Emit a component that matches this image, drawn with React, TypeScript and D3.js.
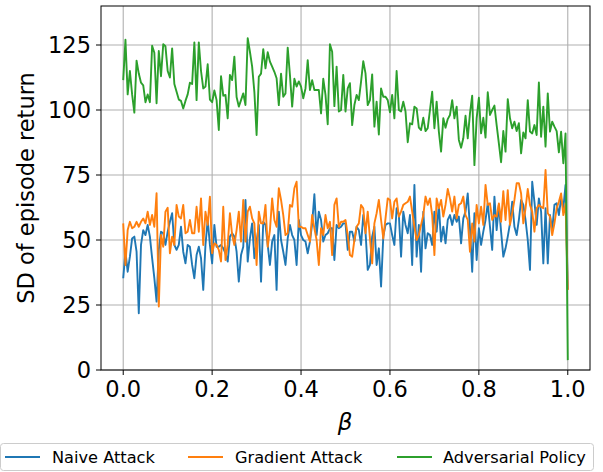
import React from "react";
import * as d3 from "d3";

const naiveAttack: number[] = [
  35.3, 45.5, 37.8, 43.6, 50.6, 51.3, 45.5, 21.8, 48.1, 53.8,
  51.9, 55.8, 51.3, 43, 35.3, 26.3, 46.2, 53.2, 52.6, 48.1,
  53.2, 57, 60.3, 48.1, 46.2, 48.1, 55.1, 45.5, 41, 48.1,
  47.4, 40.4, 35.3, 44.2, 47.4, 43, 30.8, 48.1, 57.7, 48.1,
  41, 55.8, 47.4, 47.4, 48.1, 46.8, 44.9, 41.7, 51.3, 52.6,
  51.3, 45.5, 34, 44.2, 47.4, 65.4, 41.7, 50.6, 56.4, 43,
  49.4, 55.8, 34, 57, 55.8, 48.1, 40.4, 49.4, 51.9, 30.8,
  60.9, 50, 45.5, 40.4, 50.6, 55.8, 51.9, 50, 40.4, 57.7,
  51.9, 50, 49.4, 44.9, 49.4, 56.4, 67.6, 51.9, 60.9, 57.7,
  49.4, 51.9, 52.6, 54.5, 54.5, 42.3, 55.8, 54.5, 55.1, 56.4,
  56.4, 46.2, 53.2, 53.2, 49.4, 55.1, 53.8, 48.1, 59.6, 53.2,
  38.5, 40.4, 51.3, 55.1, 40.4, 46.8, 32.1, 51.3, 55.8, 56.4,
  56.4, 51.9, 48.1, 62.2, 59.6, 43.6, 60.9, 55.8, 52.6, 59.6,
  40.4, 71.2, 43.6, 55.8, 37.8, 60.9, 46.8, 52.6, 51.9, 48.1,
  60.9, 53.2, 63.5, 49.4, 55.1, 48.7, 57.7, 59.6, 55.8,
  59.6, 57, 59, 48.7, 58.3, 60.9, 67.9, 54.5, 37.8, 60.3,
  42.3, 54.5, 48.1, 53.2, 57.7, 64.1, 55.1, 46.2, 66.7, 53.8,
  63.5, 53.2, 43.6, 46.8, 51.3, 56.4, 64.7, 55.1, 51.9, 57.7,
  65.4, 63.5, 57.7, 50, 38.5, 72.4, 64.7, 55.8, 66, 60.9,
  41, 62.2, 41, 59.6, 53.8, 63.5, 64.1, 59.6, 66, 62.2,
  71.2, 31,
];

const gradientAttack: number[] = [
  56.4, 40.4, 53.8, 57, 54.5, 55.1, 57, 55.1, 57, 58.3,
  56.4, 60.9, 55.8, 59.6, 55.1, 68, 24.4, 51.9, 47.4, 60.9,
  62.4, 44.9, 51.3, 48.1, 63.5, 59, 58.3, 63.5, 52.6, 53.2,
  57.7, 52.6, 52.6, 62.8, 53.2, 66, 48.1, 60.9, 55.8, 66.7,
  44.9, 48.7, 48.1, 46.2, 41.7, 62.8, 42.3, 48.1, 60.3, 51.9,
  48.1, 53.8, 60.9, 49.4, 65.4, 49.4, 60.9, 62.8, 58.3, 56.4,
  40.4, 60.9, 56.4, 56.4, 63.5, 47.4, 53.8, 66, 57.7, 55.1,
  69.9, 65.4, 59.6, 51.9, 52.6, 63.5, 62.8, 69.9, 72.4, 55.1,
  55.1, 54.5, 54.5, 51.9, 49.4, 59.6, 54.5, 50, 40.4, 54.5,
  51.9, 59.6, 54.5, 57, 44.2, 63.5, 66, 55.1, 57, 57,
  57.7, 51.9, 44.2, 43.6, 50, 55.1, 56.4, 63.5, 62.2, 52.6,
  60.9, 50.6, 41, 56.4, 60.3, 65.4, 57.7, 50.6, 58.3, 66,
  65.4, 58.3, 64.7, 66, 59, 60.9, 63.5, 64.1, 64.7, 66.7,
  60.9, 55.1, 50, 51.9, 55.8, 59.6, 66.7, 63.5, 66, 59.6,
  44.2, 66, 62.2, 65.4, 59, 63.5, 69.6, 66, 60.9,
  66.7, 58.3, 63.5, 64.1, 66.7, 59.6, 57.7, 45.5, 56.4, 49.4,
  63.5, 56.4, 62.8, 55.8, 71.2, 63.5, 64.1, 57.7, 59.6, 59,
  64.1, 57, 68.8, 57.7, 69.2, 55.8, 60.3, 65.4, 71.8, 71.8,
  67.9, 56.4, 62.2, 69.6, 63.5, 60.9, 53.2, 62.2, 63.5, 62.8,
  62.2, 76.9, 60.3, 59, 51.9, 56.4, 62.2, 64.7, 67.9, 59.6,
  64, 30.8,
];

const adversarialPolicy: number[] = [
  111.5, 127, 106, 115, 106, 99, 119, 114, 110.5, 109.5,
  103, 106, 103, 124.7, 122, 102.6, 122.7, 113, 125.3, 124.5,
  115, 112.5, 123.7, 110, 107, 104, 103.5, 100.6, 103.5, 106,
  110.5, 110, 126, 103.8, 126, 115, 108.3, 109, 117.6, 104,
  103, 107.5, 103.8, 92.3, 113, 105.5, 105.8, 96.8, 113.5, 111.5,
  120.5, 105, 101.3, 103.8, 106.4, 101.9, 127.6, 122.4, 116.7, 107,
  90.4, 112.8, 114, 123.4, 116, 122.2, 118.6, 116.7, 114.7, 112.2,
  101.9, 114, 105.1, 106.4, 124, 113.5, 101.3, 112, 109, 111,
  109, 104.5, 108.3, 119.2, 107.7, 111.5, 107.7, 107.7, 107.7, 98.7,
  112, 105.8, 94.5, 125.3, 122.4, 101.5, 116.7,
  99.4, 100, 113.5, 99.4, 108.3, 110.3, 94.2, 101.9, 105.8,
  103.8, 110.9, 118.8, 114.1, 101.9, 103.8, 113.7, 93.6, 103.2, 90.6,
  108.3, 105.1, 105.1, 103.8, 99.1, 105.8, 96.8, 115, 100, 99.4,
  103.2, 99.4, 87.6, 94.9, 94.5, 101.3, 100.6, 93.2, 92.3, 97,
  91.9, 93, 100, 107, 93, 103.2, 91.7, 84, 96.8, 93.2,
  96.5, 98.1, 103.8,
  96.8, 101.3, 88.5, 85.5, 89.1, 97.8, 89.1, 98.7, 105.5, 78.8,
  96.8, 104.7, 91, 97, 89.4, 106.8, 98.1, 100, 101.7, 94.2,
  87.2, 79.9, 91.9, 84, 104.2, 96.8, 93, 95.5, 91.9, 94.9,
  83.3, 91.4, 89.1, 103.8, 91.7, 91, 94.2, 90.4, 110.6, 89.7,
  101.3, 85.9, 106.4, 91.7, 95.5, 93.6, 91.9, 83.7, 91.7, 79.5,
  91, 3.8,
];

const seriesNames = ["Naive Attack", "Gradient Attack", "Adversarial Policy"];
const seriesColors = ["#1f77b4", "#ff7f0e", "#2ca02c"];
const xTicks = [0, 0.2, 0.4, 0.6, 0.8, 1.0];
const yTicks = [0, 25, 50, 75, 100, 125];

const W = 603;
const H = 472;
const FONT = "DejaVu Sans, sans-serif";

export default function App() {
  const left = 101, right = 590, top = 6, bottom = 370;
  const x = d3.scaleLinear().domain([-0.05, 1.05]).range([left, right]);
  const y = d3.scaleLinear().domain([0, 140]).range([bottom, top]);
  const allSeries = [naiveAttack, gradientAttack, adversarialPolicy];
  const line = (vals: number[]) =>
    d3
      .line<number>()
      .x((_, i) => x(i / (vals.length - 1)))
      .y((v) => y(v))(vals) || "";

  const legendItems = [
    { lx: 5, tx: 52 },
    { lx: 188, tx: 235 },
    { lx: 397, tx: 443 },
  ];

  return (
    <div style={{ position: "absolute", left: 0, top: 0 }}>
      <svg width={W} height={H} style={{ display: "block", background: "#fff" }}>
        <defs>
          <clipPath id="plotclip">
            <rect x={left} y={top} width={right - left} height={bottom - top} />
          </clipPath>
        </defs>
        {/* grid */}
        {xTicks.map((t) => (
          <line key={"gx" + t} x1={x(t)} x2={x(t)} y1={top} y2={bottom} stroke="#b0b0b0" strokeWidth={1.1} />
        ))}
        {yTicks.map((t) => (
          <line key={"gy" + t} x1={left} x2={right} y1={y(t)} y2={y(t)} stroke="#b0b0b0" strokeWidth={1.1} />
        ))}
        {/* series */}
        <g clipPath="url(#plotclip)">
          {allSeries.map((vals, k) => (
            <path key={k} d={line(vals)} fill="none" stroke={seriesColors[k]} strokeWidth={1.9} strokeLinejoin="round" />
          ))}
        </g>
        {/* spines */}
        <rect x={left} y={top} width={right - left} height={bottom - top} fill="none" stroke="#000" strokeWidth={1} />
        {/* x ticks */}
        {xTicks.map((t) => (
          <g key={"xt" + t}>
            <line x1={x(t)} x2={x(t)} y1={bottom} y2={bottom + 5} stroke="#000" strokeWidth={1} />
            <text x={x(t)} y={bottom + 27} textAnchor="middle" fontFamily={FONT} fontSize={22.5} fill="#000">
              {t.toFixed(1)}
            </text>
          </g>
        ))}
        {/* y ticks */}
        {yTicks.map((t) => (
          <g key={"yt" + t}>
            <line x1={left - 5} x2={left} y1={y(t)} y2={y(t)} stroke="#000" strokeWidth={1} />
            <text x={left - 10} y={y(t)} dy="0.36em" textAnchor="end" fontFamily={FONT} fontSize={22.5} fill="#000">
              {t}
            </text>
          </g>
        ))}
        {/* axis labels */}
        <text x={345} y={430} textAnchor="middle" fontFamily={FONT} fontSize={23} fontStyle="italic" fill="#000">
          β
        </text>
        <text
          transform={`translate(34, ${(top + bottom) / 2}) rotate(-90)`}
          textAnchor="middle"
          fontFamily={FONT}
          fontSize={22.5}
          fill="#000"
        >
          SD of episode return
        </text>
        {/* legend */}
        <rect x={0.5} y={443.5} width={593} height={27} rx={3} fill="#fff" fillOpacity={0.8} stroke="#cccccc" strokeWidth={1} />
        {legendItems.map((it, k) => (
          <g key={"lg" + k}>
            <line x1={it.lx} x2={it.lx + 35} y1={457} y2={457} stroke={seriesColors[k]} strokeWidth={1.9} />
            <text x={it.tx} y={457} dy="0.36em" fontFamily={FONT} fontSize={16.2} fill="#000">
              {seriesNames[k]}
            </text>
          </g>
        ))}
      </svg>
    </div>
  );
}
